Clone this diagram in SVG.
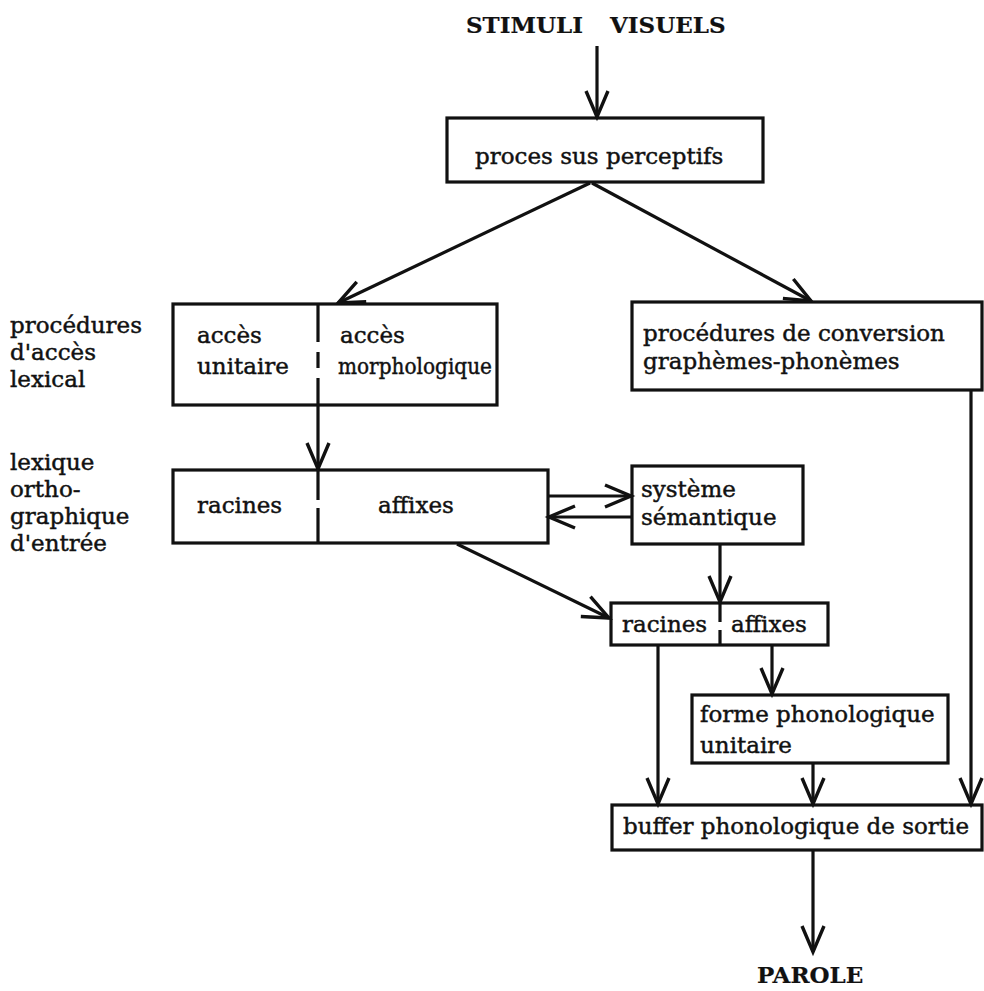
<svg xmlns="http://www.w3.org/2000/svg" width="984" height="991" viewBox="0 0 984 991">
<style>
  .t { font-family: "DejaVu Serif", "Liberation Serif", serif; font-size: 23px; fill: #111; stroke: #111; stroke-width: 0.45; }
  .cap { font-size: 23px; font-weight: bold; stroke-width: 0.2; }
  .box { fill: none; stroke: #111; stroke-width: 3.2; }
  .ln { fill: none; stroke: #111; stroke-width: 3.2; }
  .dash { fill: none; stroke: #111; stroke-width: 3.2; }
</style>
<defs>
  <marker id="ah" markerUnits="userSpaceOnUse" viewBox="-30 -15 34 30" refX="0" refY="0" markerWidth="34" markerHeight="30" orient="auto" overflow="visible">
    <path d="M -26 -11 L 0 0 L -26 11" fill="none" stroke="#111" stroke-width="3.4" stroke-linejoin="miter"/>
  </marker>
</defs>
<rect width="984" height="991" fill="#fff"/>

<g id="stimuli">
  <text class="t cap" x="466" y="33">STIMULI</text>
  <text class="t cap" x="610" y="33">VISUELS</text>
</g>

<g id="perceptifs">
  <rect class="box" x="447" y="118" width="316" height="64"/>
  <text class="t" x="475" y="164">proces sus perceptifs</text>
</g>

<g id="label-acces">
  <text class="t" x="10" y="333">procédures</text>
  <text class="t" x="10" y="360">d'accès</text>
  <text class="t" x="10" y="387">lexical</text>
</g>

<g id="label-lexique">
  <text class="t" x="10" y="470">lexique</text>
  <text class="t" x="10" y="497">ortho-</text>
  <text class="t" x="10" y="524">graphique</text>
  <text class="t" x="10" y="551">d'entrée</text>
</g>

<g id="acces">
  <rect class="box" x="173" y="304" width="324" height="101"/>
  <path class="dash" d="M318 304 V342 M318 352 V368 M318 378 V405"/>
  <text class="t" x="197" y="343">accès</text>
  <text class="t" x="197" y="374">unitaire</text>
  <text class="t" x="340" y="343">accès</text>
  <text class="t" x="338" y="374" textLength="154" lengthAdjust="spacingAndGlyphs">morphologique</text>
</g>

<g id="conversion">
  <rect class="box" x="632" y="302" width="350" height="88"/>
  <text class="t" x="643" y="341">procédures de conversion</text>
  <text class="t" x="643" y="369">graphèmes-phonèmes</text>
</g>

<g id="lexique">
  <rect class="box" x="173" y="470" width="375" height="73"/>
  <path class="dash" d="M318 470 V500 M318 508 V543"/>
  <text class="t" x="197" y="513">racines</text>
  <text class="t" x="378" y="513">affixes</text>
</g>

<g id="semantique">
  <rect class="box" x="632" y="466" width="171" height="78"/>
  <text class="t" x="641" y="497">système</text>
  <text class="t" x="641" y="525">sémantique</text>
</g>

<g id="racines-affixes">
  <rect class="box" x="611" y="603" width="217" height="42"/>
  <path class="dash" d="M720 603 V622 M720 630 V645"/>
  <text class="t" x="622" y="632">racines</text>
  <text class="t" x="731" y="632">affixes</text>
</g>

<g id="forme">
  <rect class="box" x="692" y="695" width="256" height="68"/>
  <text class="t" x="700" y="722">forme phonologique</text>
  <text class="t" x="700" y="753">unitaire</text>
</g>

<g id="buffer">
  <rect class="box" x="612" y="805" width="370" height="45"/>
  <text class="t" x="623" y="834">buffer phonologique de sortie</text>
</g>

<g id="parole"><text class="t cap" x="757" y="983">PAROLE</text></g>

<g id="connectors">
  <line class="ln" x1="597" y1="46" x2="597" y2="117" marker-end="url(#ah)"/>
  <line class="ln" x1="590" y1="183" x2="338" y2="303" marker-end="url(#ah)"/>
  <line class="ln" x1="592" y1="183" x2="811" y2="301" marker-end="url(#ah)"/>
  <line class="ln" x1="318" y1="405" x2="318" y2="469" marker-end="url(#ah)"/>
  <line class="ln" x1="548" y1="496" x2="631" y2="496" marker-end="url(#ah)"/>
  <line class="ln" x1="632" y1="517" x2="549" y2="517" marker-end="url(#ah)"/>
  <line class="ln" x1="457" y1="544" x2="609" y2="618" marker-end="url(#ah)"/>
  <line class="ln" x1="720" y1="544" x2="720" y2="602" marker-end="url(#ah)"/>
  <line class="ln" x1="971" y1="390" x2="971" y2="804" marker-end="url(#ah)"/>
  <line class="ln" x1="658" y1="645" x2="658" y2="804" marker-end="url(#ah)"/>
  <line class="ln" x1="772" y1="645" x2="772" y2="694" marker-end="url(#ah)"/>
  <line class="ln" x1="813" y1="763" x2="813" y2="804" marker-end="url(#ah)"/>
  <line class="ln" x1="813" y1="850" x2="813" y2="952" marker-end="url(#ah)"/>
</g>
</svg>
